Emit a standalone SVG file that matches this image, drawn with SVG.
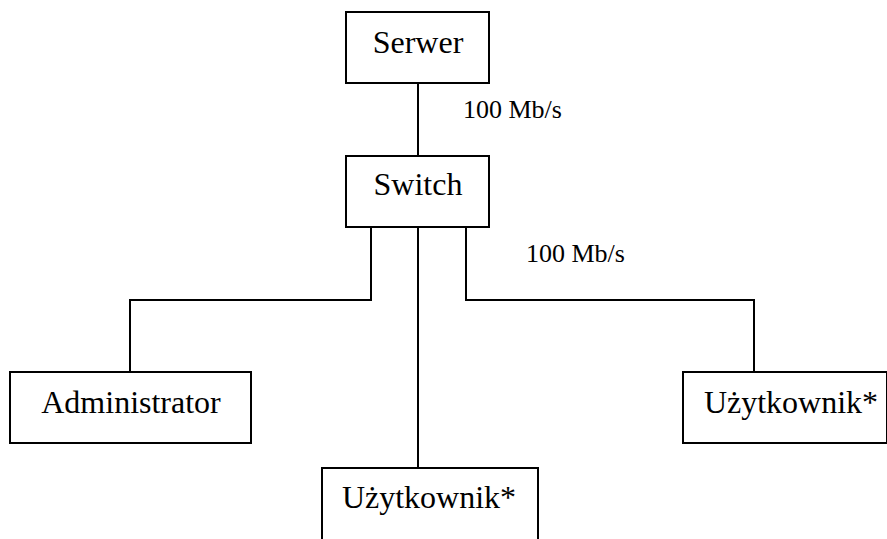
<svg xmlns="http://www.w3.org/2000/svg" width="887" height="539" viewBox="0 0 887 539">
<style>
.box{fill:#fff;stroke:#000;stroke-width:2}
.ln{fill:none;stroke:#000;stroke-width:2}
text{font-family:"Liberation Serif","Times New Roman",Times,"Nimbus Roman","Nimbus Roman No9 L","DejaVu Serif","Noto Serif",serif;fill:#000}
.lbl{font-size:32px;text-anchor:middle}
.el{font-size:26px}
</style>
<rect width="887" height="539" fill="#fff"/>
<g id="connectors">
<line class="ln" x1="418" y1="83" x2="418" y2="156"/>
<polyline class="ln" points="371,228 371,300 130,300 130,372"/>
<line class="ln" x1="418" y1="228" x2="418" y2="468"/>
<polyline class="ln" points="466,228 466,300 754,300 754,372"/>
<text class="el" x="463" y="118">100 Mb/s</text>
<text class="el" x="526" y="262">100 Mb/s</text>
</g>
<g id="serwer">
<rect class="box" x="346" y="12" width="143" height="71"/>
<text class="lbl" x="418" y="53">Serwer</text>
</g>
<g id="switch">
<rect class="box" x="346" y="156" width="143" height="71"/>
<text class="lbl" x="418" y="195">Switch</text>
</g>
<g id="administrator">
<rect class="box" x="10" y="372" width="241" height="71"/>
<text class="lbl" x="131" y="413">Administrator</text>
</g>
<g id="uzytkownik1">
<rect class="box" x="683" y="372" width="204" height="71"/>
<text class="lbl" x="791" y="413">Użytkownik*</text>
</g>
<g id="uzytkownik2">
<rect class="box" x="322" y="468" width="216" height="80"/>
<text class="lbl" x="429" y="508">Użytkownik*</text>
</g>
</svg>
